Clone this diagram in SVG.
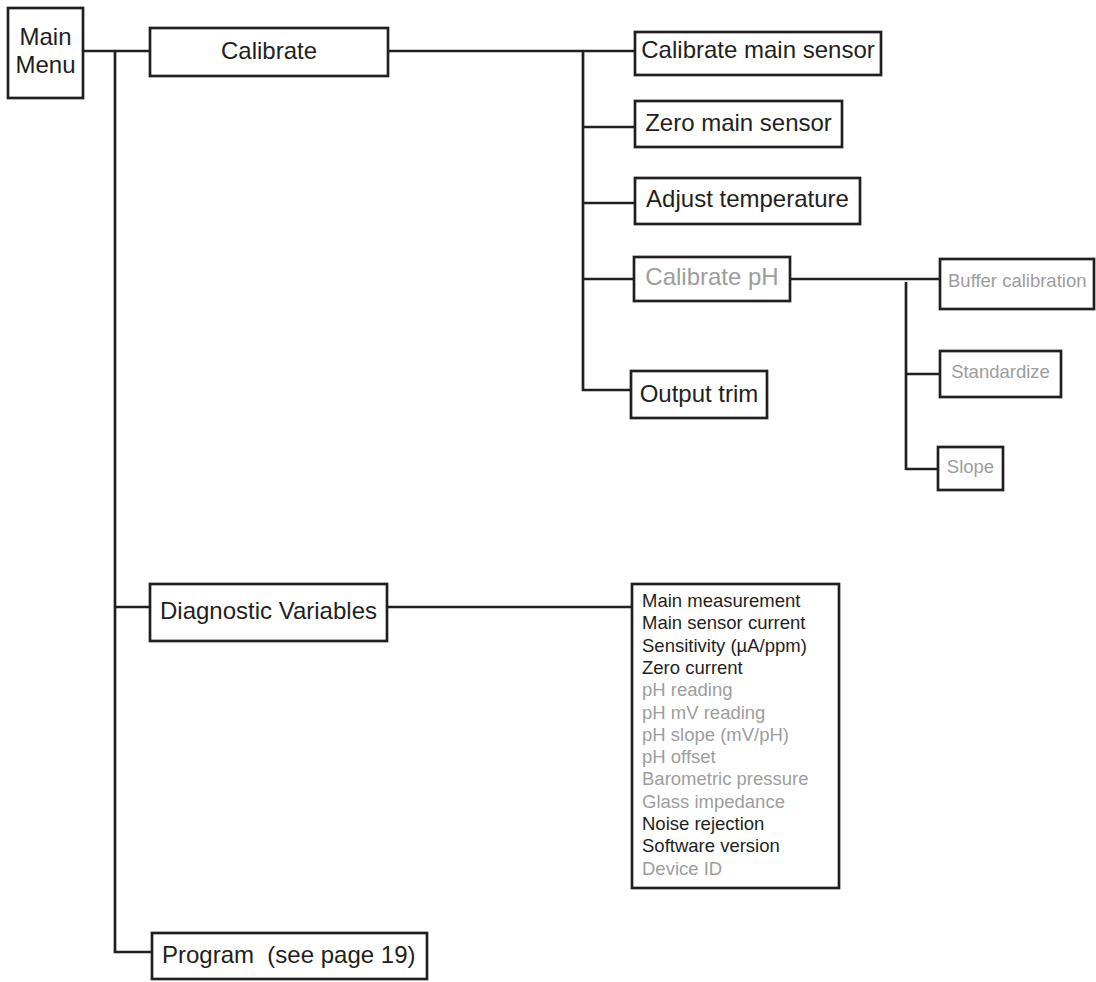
<svg xmlns="http://www.w3.org/2000/svg" width="1096" height="982" viewBox="0 0 1096 982">
<style>
.box{fill:#fff;stroke:#231f20;stroke-width:2.7}
.ln{stroke:#231f20;stroke-width:2.7;fill:none}
text{font-family:"Liberation Sans",Arial,sans-serif;fill:#231f20}
.big{font-size:24px}
.sm{font-size:18.5px}
.g{fill:#9d9d9d}
.c{text-anchor:middle}
</style>
<rect width="1096" height="982" fill="#fff"/>
<g id="connectors">
<path class="ln" d="M83 51H150M115 51V952H152M115 607H150M388 51H635M583 51V390H631M583 127H635M583 203H635M583 279H634M790 279H940M906 282V470M906 374H940M906 469H938M387 607H632"/>
</g>
<g id="main-menu"><rect class="box" x="8" y="8" width="75" height="90"/><text class="big c" x="45.5" y="45">Main</text><text class="big c" x="45.5" y="73">Menu</text></g>
<g id="calibrate"><rect class="box" x="150" y="28" width="238" height="48"/><text class="big c" x="269" y="59">Calibrate</text></g>
<g id="calibrate-main-sensor"><rect class="box" x="635" y="32" width="246" height="43"/><text class="big c" x="758" y="58">Calibrate main sensor</text></g>
<g id="zero-main-sensor"><rect class="box" x="635" y="101" width="207" height="46"/><text class="big c" x="738.5" y="131">Zero main sensor</text></g>
<g id="adjust-temperature"><rect class="box" x="635" y="178" width="225" height="46"/><text class="big c" x="747.5" y="207">Adjust temperature</text></g>
<g id="calibrate-ph"><rect class="box" x="634" y="257" width="156" height="44"/><text class="big c g" x="712" y="285">Calibrate pH</text></g>
<g id="output-trim"><rect class="box" x="631" y="371" width="136" height="47"/><text class="big c" x="699" y="402">Output trim</text></g>
<g id="buffer-calibration"><rect class="box" x="940" y="259" width="154" height="50"/><text class="sm g" x="948" y="287">Buffer calibration</text></g>
<g id="standardize"><rect class="box" x="940" y="351" width="121" height="46"/><text class="sm c g" x="1000.5" y="378">Standardize</text></g>
<g id="slope"><rect class="box" x="938" y="447" width="65" height="43"/><text class="sm c g" x="970.5" y="473">Slope</text></g>
<g id="diagnostic-variables"><rect class="box" x="150" y="584" width="237" height="57"/><text class="big c" x="268.5" y="619">Diagnostic Variables</text></g>
<g id="diagnostic-list"><rect class="box" x="632" y="584" width="207" height="304"/>
<text class="sm" x="642" y="607">Main measurement</text>
<text class="sm" x="642" y="629.3">Main sensor current</text>
<text class="sm" x="642" y="651.6">Sensitivity (µA/ppm)</text>
<text class="sm" x="642" y="673.9">Zero current</text>
<text class="sm g" x="642" y="696.2">pH reading</text>
<text class="sm g" x="642" y="718.5">pH mV reading</text>
<text class="sm g" x="642" y="740.8">pH slope (mV/pH)</text>
<text class="sm g" x="642" y="763.1">pH offset</text>
<text class="sm g" x="642" y="785.4">Barometric pressure</text>
<text class="sm g" x="642" y="807.7">Glass impedance</text>
<text class="sm" x="642" y="830">Noise rejection</text>
<text class="sm" x="642" y="852.3">Software version</text>
<text class="sm g" x="642" y="874.6">Device ID</text>
</g>
<g id="program"><rect class="box" x="152" y="933" width="275" height="46"/><text class="big" x="162" y="963" xml:space="preserve">Program  (see page 19)</text></g>
</svg>
